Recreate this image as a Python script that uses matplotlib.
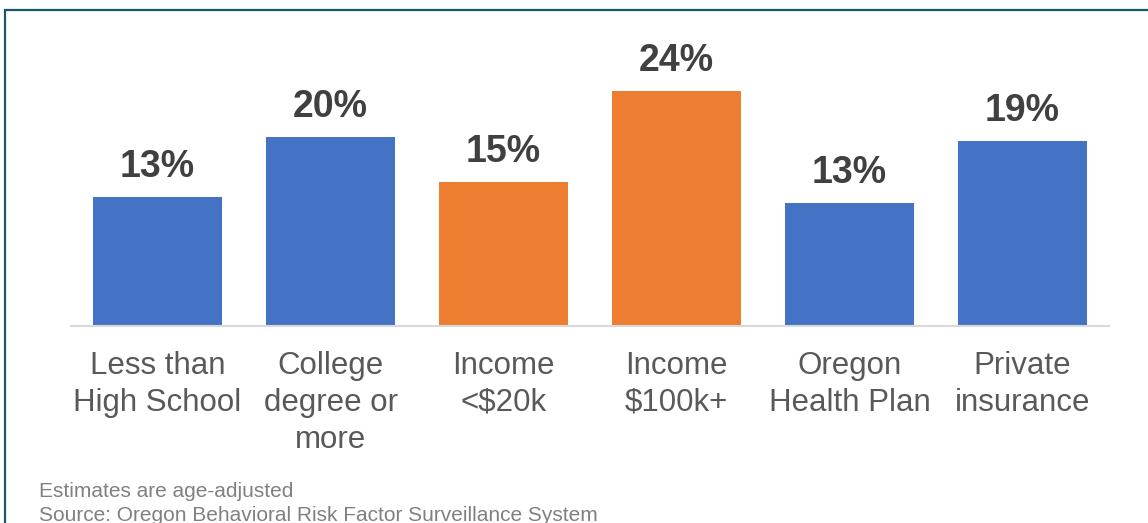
import matplotlib.pyplot as plt
from matplotlib.patches import Rectangle

plt.rcParams['font.family'] = ['Liberation Sans', 'DejaVu Sans']

# Percent of adults, by group
categories = ['Less than\nHigh School', 'College\ndegree or\nmore', 'Income\n<$20k',
              'Income\n$100k+', 'Oregon\nHealth Plan', 'Private\ninsurance']
values = [13.4, 19.6, 15.0, 24.4, 12.8, 19.2]
colors = ['#4472C4', '#4472C4', '#ED7D31', '#ED7D31', '#4472C4', '#4472C4']
notes = ['Estimates are age-adjusted',
         'Source: Oregon Behavioral Risk Factor Surveillance System']

W, H = 1148, 523
fig = plt.figure(figsize=(W / 100, H / 100), dpi=100)
ax = fig.add_axes([71 / W, (H - 326) / H, 1038 / W, 288.6 / H])

x = range(len(categories))
bars = ax.bar(x, values, width=0.74, color=colors, zorder=2)

for b, v in zip(bars, values):
    ax.annotate(f'{v:.0f}%', (b.get_x() + b.get_width() / 2, v),
                xytext=(0, 14.4), textcoords='offset points',
                ha='center', va='baseline', fontsize=27, fontweight='bold',
                color='#404040')

ax.set_xlim(-0.5, 5.5)
ax.set_ylim(0, 30)
ax.set_xticks(list(x))
ax.set_xticklabels(categories, fontsize=22.5, color='#595959', linespacing=1.3)
ax.tick_params(axis='x', length=0, pad=18)
ax.set_yticks([])
for side in ['top', 'left', 'right']:
    ax.spines[side].set_visible(False)
ax.spines['bottom'].set_color('#d9d9d9')
ax.spines['bottom'].set_linewidth(1.5)

# frame around the chart area
fig.patches.append(Rectangle((5 / W, -0.1), 1.2, (H - 10) / H + 0.1,
                             transform=fig.transFigure, fill=False,
                             edgecolor='#155b66', linewidth=1.6))

fig.text(39 / W, (H - 497) / H, notes[0], fontsize=15, color='#808080', va='baseline')
fig.text(39 / W, (H - 521) / H, notes[1], fontsize=15, color='#808080', va='baseline')

fig.savefig('out.png', dpi=100)
